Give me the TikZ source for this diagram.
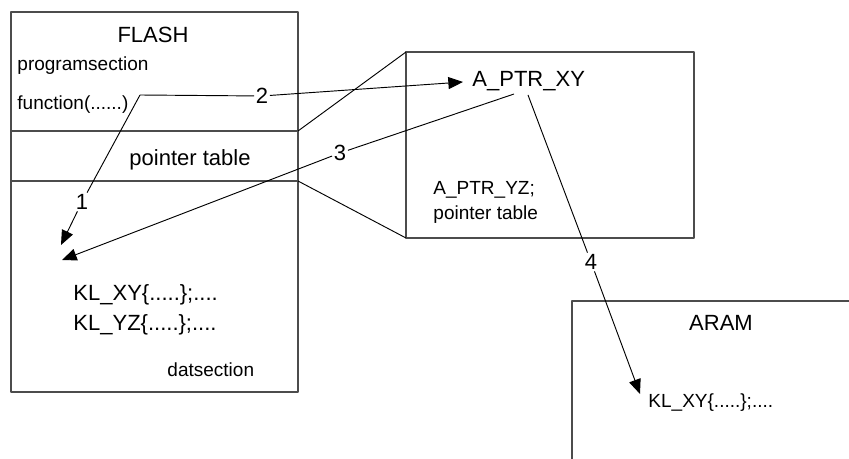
\documentclass[tikz,border=0pt]{standalone}
\usepackage{fontspec}
\setmainfont{Liberation Sans}
\usetikzlibrary{arrows.meta}
\tikzset{
  big/.style={font=\fontsize{16.5}{20}\selectfont, inner sep=0pt},
  small/.style={font=\fontsize{14.25}{17}\selectfont, inner sep=0pt},
  num/.style={font=\fontsize{16.5}{20}\selectfont, inner sep=1pt},
  box/.style={draw=black!70, line width=1.1pt},
}
\begin{document}
\begin{tikzpicture}[x=0.75pt, y=-0.75pt, >={Triangle[length=11pt,width=9pt]}, line width=0.7pt, line join=round]
  \clip (0,0) rectangle (849,459);
  % FLASH
  \draw[box] (11,12) rectangle (298,392);
  \draw[box] (11,131) -- (298,131);
  \draw[box] (11,181) -- (298,181);
  \node[big, anchor=base] (flash) at (153,43) {FLASH};
  \node[small, anchor=base west] (prog) at (17,71) {programsection};
  \node[small, anchor=base west] (func) at (17,110) {function(......)};
  \node[big, anchor=base] (ptab) at (190,166) {pointer table};
  \node[big, anchor=base west] (klxy) at (73,301) {KL\_XY\{.....\};....};
  \node[big, anchor=base west] (klyz) at (73,331) {KL\_YZ\{.....\};....};
  \node[small, anchor=base west] (dat) at (167,377) {datsection};
  % pointer table
  \draw[box] (406,52) rectangle (694,238);
  \draw (298,131) -- (406,52);
  \draw (298,181) -- (406,238);
  \node[big, anchor=base west] (ptrxy) at (472,87) {A\_PTR\_XY};
  \node[small, anchor=base west] (ptryz) at (433,195) {A\_PTR\_YZ;};
  \node[small, anchor=base west] (ptab2) at (433,220) {pointer table};
  % ARAM
  \draw[box] (572,301) rectangle (880,480);
  \node[big, anchor=base] (aram) at (721,331) {ARAM};
  \node[small, anchor=base west] (aramkl) at (648,407) {KL\_XY\{.....\};....};
  % connectors
  \coordinate (fn) at (140,95);
  \coordinate (d1) at (61,245);
  \coordinate (d2) at (62,260);
  \coordinate (t2) at (463,82);
  \coordinate (p3) at (514,94);
  \coordinate (p4) at (528,95);
  \coordinate (t4) at (640,394);
  \node[num] (n1) at (82,202) {1};
  \node[num] (n2) at (262,96) {2};
  \node[num] (n3) at (340,153) {3};
  \node[num] (n4) at (591,262) {4};
  \draw (fn) -- (n1);
  \draw[->] (n1) -- (d1);
  \draw (fn) -- (n2);
  \draw[->] (n2) -- (t2);
  \draw (p3) -- (n3);
  \draw[->] (n3) -- (d2);
  \draw (p4) -- (n4);
  \draw[->] (n4) -- (t4);
\end{tikzpicture}
\end{document}
